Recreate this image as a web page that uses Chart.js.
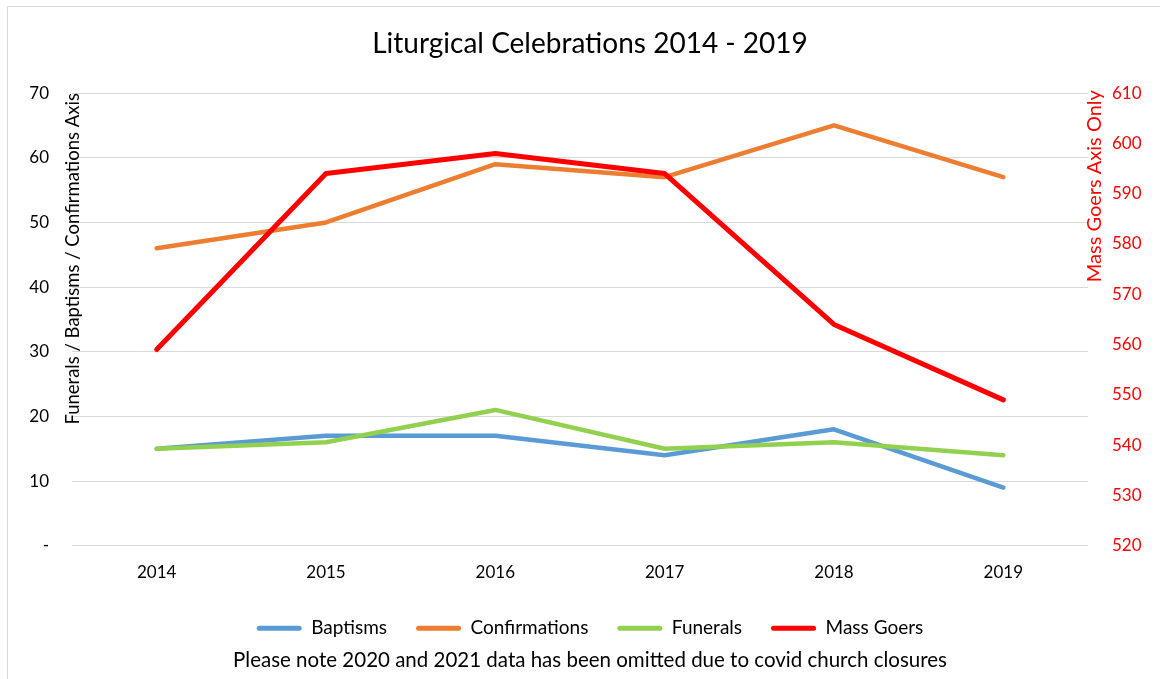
<!DOCTYPE html>
<html>
<head>
<meta charset="utf-8">
<script src="https://cdn.jsdelivr.net/npm/chart.js@4/dist/chart.umd.min.js"></script>
<style>
  html, body { margin: 0; padding: 0; background: #fff; }
  #wrap { width: 1160px; height: 679px; }
</style>
</head>
<body>
<div id="wrap"><canvas id="chart" width="1160" height="679"></canvas></div>
<script>
// Data
const years = ['2014', '2015', '2016', '2017', '2018', '2019'];
const baptisms = [15, 17, 17, 14, 18, 9];
const confirmations = [46, 50, 59, 57, 65, 57];
const funerals = [15, 16, 21, 15, 16, 14];
const massGoers = [559, 594, 598, 594, 564, 549];

const FONT = 'Lato';

// Axis titles and outer frame, drawn by hand like Excel places them
const extras = {
    id: 'extras',
    beforeDraw(chart) {
        const ctx = chart.ctx;
        ctx.save();
        ctx.strokeStyle = '#d9d9d9';
        ctx.lineWidth = 1;
        ctx.strokeRect(7.5, 6.5, 1200, 700);
        ctx.restore();
    },
    afterDraw(chart) {
        const ctx = chart.ctx;
        const area = chart.chartArea;
        ctx.save();
        ctx.textBaseline = 'middle';
        ctx.textAlign = 'right';
        // left title
        ctx.translate(73, area.top);
        ctx.rotate(-Math.PI / 2);
        ctx.fillStyle = '#000';
        ctx.font = '18.5px ' + FONT;
        ctx.fillText('Funerals / Baptisms / Confirmations Axis', 0, 0);
        ctx.restore();
        // right title
        ctx.save();
        ctx.textBaseline = 'middle';
        ctx.textAlign = 'right';
        ctx.translate(1095, area.top - 3);
        ctx.rotate(-Math.PI / 2);
        ctx.fillStyle = '#ff0000';
        ctx.font = '20px ' + FONT;
        ctx.fillText('Mass Goers Axis Only', 0, 0);
        ctx.restore();
    }
};

function lineSet(label, data, color, order, axis, width) {
    return {
        label: label,
        data: data,
        borderColor: color,
        backgroundColor: color,
        borderWidth: width,
        pointRadius: 0,
        pointHoverRadius: 0,
        tension: 0,
        borderCapStyle: 'round',
        borderJoinStyle: 'round',
        order: order,
        yAxisID: axis
    };
}

new Chart(document.getElementById('chart'), {
    type: 'line',
    plugins: [extras],
    data: {
        labels: years,
        datasets: [
            lineSet('Baptisms', baptisms, '#5b9bd5', 3, 'y', 4.5),
            lineSet('Confirmations', confirmations, '#ed7d31', 2, 'y', 4.5),
            lineSet('Funerals', funerals, '#92d050', 1, 'y', 4.5),
            lineSet('Mass Goers', massGoers, '#ff0000', 0, 'y1', 5)
        ]
    },
    options: {
        responsive: false,
        animation: false,
        layout: { padding: { left: 20, right: 0, top: 0, bottom: 0 } },
        plugins: {
            title: {
                display: true,
                text: 'Liturgical Celebrations 2014 - 2019',
                color: '#000',
                font: { family: FONT, size: 28, weight: 'normal', lineHeight: 1.2 },
                padding: { top: 27.5, bottom: 32 }
            },
            subtitle: {
                display: true,
                position: 'bottom',
                text: 'Please note 2020 and 2021 data has been omitted due to covid church closures',
                color: '#000',
                font: { family: FONT, size: 20.5, weight: 'normal', lineHeight: 1.2 },
                padding: { top: 0, bottom: 6.7 }
            },
            legend: {
                position: 'bottom',
                labels: {
                    color: '#000',
                    font: { family: FONT, size: 19 },
                    boxWidth: 45,
                    boxHeight: 5,
                    padding: 29,
                    useBorderRadius: true,
                    borderRadius: 2.5,
                    sort: (a, b) => a.datasetIndex - b.datasetIndex,
                    generateLabels(chart) {
                        const items = Chart.defaults.plugins.legend.labels.generateLabels(chart);
                        items.forEach(it => { it.lineWidth = 0; });
                        return items;
                    }
                }
            },
            tooltip: { enabled: false }
        },
        scales: {
            x: {
                offset: true,
                grid: { display: false, drawTicks: false },
                border: { display: false },
                ticks: { color: '#000', font: { family: FONT, size: 17 }, padding: 17 },
                afterFit(scale) { scale.height = 44; }
            },
            y: {
                position: 'left',
                min: 0,
                max: 70,
                grid: { color: '#d9d9d9', lineWidth: 1, drawTicks: false },
                border: { display: false },
                ticks: {
                    stepSize: 10,
                    color: '#000',
                    font: { family: FONT, size: 17 },
                    padding: 23,
                    callback: v => v === 0 ? '-' : v
                },
                afterFit(scale) { scale.width = 52; }
            },
            y1: {
                position: 'right',
                min: 520,
                max: 610,
                grid: { display: false, drawTicks: false },
                border: { display: false },
                ticks: {
                    stepSize: 10,
                    color: '#ff0000',
                    font: { family: FONT, size: 17 },
                    padding: 24
                },
                afterFit(scale) { scale.width = 72; }
            }
        }
    }
});
</script>
</body>
</html>
